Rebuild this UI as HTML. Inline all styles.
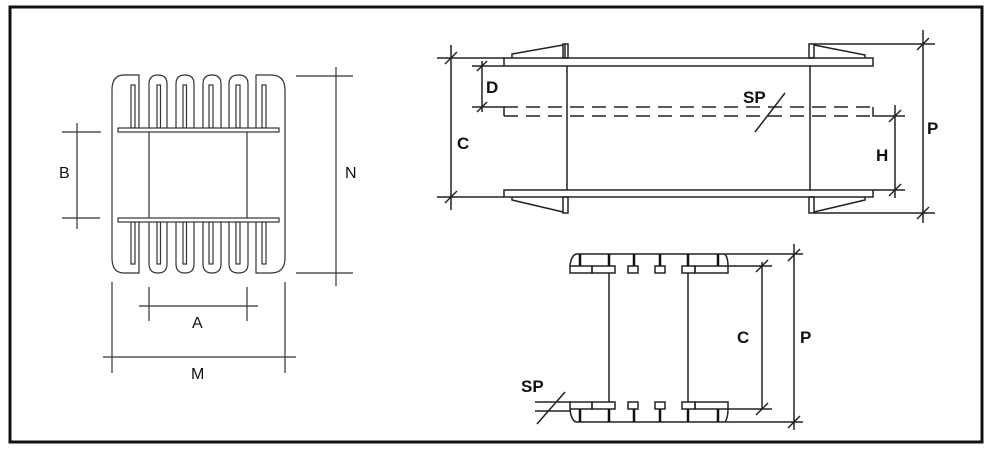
<!DOCTYPE html>
<html><head><meta charset="utf-8"><style>
html,body{margin:0;padding:0;background:#fff;}
svg{display:block;}
text{font-family:"Liberation Sans",sans-serif;fill:#111;}
.b{font-weight:bold;font-size:17px;}
.r{font-size:16px;}
</style></head><body>
<svg width="988" height="452" viewBox="0 0 988 452" xmlns="http://www.w3.org/2000/svg">
<rect x="0" y="0" width="988" height="452" fill="#fff"/>
<rect x="10" y="7" width="972" height="435" fill="none" stroke="#111" stroke-width="3"/>
<g fill="none" stroke="#333" stroke-width="1.2">
<!-- left figure -->
<path d="M139,128 V75 H124 Q112,75 112,90 V258 Q112,273 124,273 H139 V222"/>
<path d="M256,128 V75 H271 Q285,75 285,90 V258 Q285,273 271,273 H256 V222"/>
<path d="M149,128 V84 Q149,75 158,75 Q167,75 167,84 V128"/>
<path d="M176,128 V84 Q176,75 185,75 Q194,75 194,84 V128"/>
<path d="M203,128 V84 Q203,75 212,75 Q221,75 221,84 V128"/>
<path d="M229,128 V84 Q229,75 238.5,75 Q248,75 248,84 V128"/>
<path d="M149,222 V264 Q149,273 158,273 Q167,273 167,264 V222"/>
<path d="M176,222 V264 Q176,273 185,273 Q194,273 194,264 V222"/>
<path d="M203,222 V264 Q203,273 212,273 Q221,273 221,264 V222"/>
<path d="M229,222 V264 Q229,273 238.5,273 Q248,273 248,264 V222"/>
<rect x="131" y="85" width="4" height="43"/><rect x="157" y="85" width="3.5" height="43"/>
<rect x="183" y="85" width="3.5" height="43"/><rect x="209" y="85" width="4" height="43"/>
<rect x="236" y="85" width="4" height="43"/><rect x="262" y="85" width="4" height="43"/>
<rect x="131" y="222" width="4" height="42"/><rect x="157" y="222" width="3.5" height="42"/>
<rect x="183" y="222" width="3.5" height="42"/><rect x="209" y="222" width="4" height="42"/>
<rect x="236" y="222" width="4" height="42"/><rect x="262" y="222" width="4" height="42"/>
<rect x="118" y="128" width="161" height="4" fill="#fff"/>
<rect x="118" y="218" width="161" height="4" fill="#fff"/>
<path d="M149,132 V218 M247,132 V218"/>
<path d="M77,123 V229 M62,132 H101 M62,218 H100"/>
<path d="M336,67 V286 M296,76 H353 M296,273 H353"/>
<path d="M139,306 H258 M149,287 V321 M247,287 V321"/>
<path d="M103,357 H296 M112,282 V373 M285,282 V373"/>
</g>
<text class="r" x="59" y="178">B</text>
<text class="r" x="345" y="178">N</text>
<text class="r" x="192" y="328">A</text>
<text class="r" x="191" y="379">M</text>
<g fill="none" stroke="#222" stroke-width="1.5">
<!-- top right figure -->
<rect x="504" y="58" width="369" height="8"/>
<rect x="504" y="190" width="369" height="7"/>
<path d="M512,58 V54 L563,45 M565,44 V58"/><rect x="563" y="44" width="5" height="14"/>
<rect x="809" y="44" width="5" height="14"/><path d="M814,45 L865,55 V58"/>
<path d="M512,197 V200 L563,212"/><rect x="563" y="197" width="5" height="16"/>
<rect x="809" y="197" width="5" height="16"/><path d="M814,212 L865,200 V197"/>
<path d="M567,66 V190 M810,66 V190"/>
<path d="M437,58 H504 M437,197 H504 M472,66 H504"/>
<path d="M472,107 H504 V116 M873,107 V116 H905 M873,190 H905"/>
<path d="M504,107 H873 M504,116 H873" stroke-dasharray="14,8"/>
<path d="M451,45 V210 M482,61 V112 M895,105 V198 M923,30 V223 M814,44 H935 M814,213 H935"/>
<path d="M445,64 L457,52 M445,203 L457,191 M477,71 L487,61 M477,112 L487,102 M889,122 L901,110 M889,196 L901,184 M917,50 L929,38 M917,219 L929,207 M755,132 L785,93"/>
<!-- bottom figure -->
<path d="M576,254 H803 M576,254 Q571,256 570,266 M725,254 Q728,258 728,266 H772"/>
<rect x="570" y="266" width="22" height="7"/><rect x="592" y="266" width="23" height="7"/>
<rect x="628" y="266" width="10" height="7"/><rect x="655" y="266" width="10" height="7"/>
<rect x="682" y="266" width="13" height="7"/><rect x="695" y="266" width="33" height="7"/>
<rect x="570" y="402" width="22" height="7"/><rect x="592" y="402" width="23" height="7"/>
<rect x="628" y="402" width="10" height="7"/><rect x="655" y="402" width="10" height="7"/>
<rect x="682" y="402" width="13" height="7"/><rect x="695" y="402" width="33" height="7"/>
<path d="M576,422 H803 M576,422 Q571,420 570,409 M725,422 Q728,418 728,409 H772"/>
<path d="M609,273 V402 M688,273 V402"/>
<path d="M535,402 H570 M535,411 H570"/>
<path d="M762,262 V410 M794,244 V430"/>
<path d="M756,272 L768,260 M756,415 L768,403 M788,261 L800,249 M788,428 L800,416 M537,424 L565,392"/>
</g>
<g stroke="#111" stroke-width="2.5">
<path d="M580,254 V266 M609,254 V266 M634,254 V266 M660,254 V266 M688,254 V266 M718,254 V266"/>
<path d="M580,409 V422 M609,409 V422 M634,409 V422 M660,409 V422 M688,409 V422 M718,409 V422"/>
</g>
<text class="b" x="457" y="149">C</text>
<text class="b" x="486" y="93">D</text>
<text class="b" x="743" y="103">SP</text>
<text class="b" x="876" y="161">H</text>
<text class="b" x="927" y="134">P</text>
<text class="b" x="737" y="343">C</text>
<text class="b" x="800" y="343">P</text>
<text class="b" x="521" y="392">SP</text>
</svg>
</body></html>
